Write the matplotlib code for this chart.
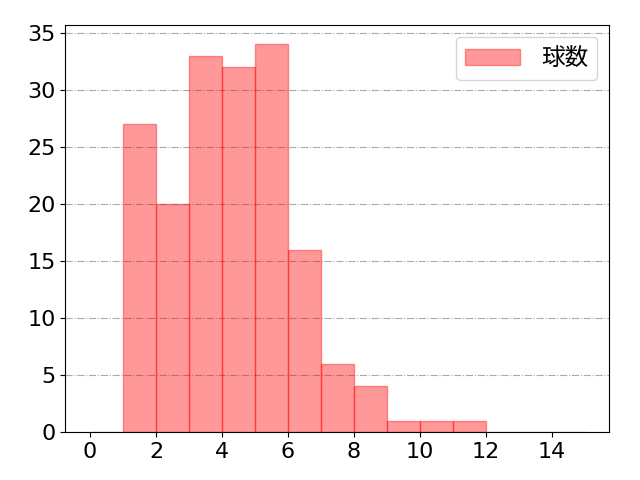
import matplotlib.pyplot as plt
import numpy as np

plt.rcParams['font.family'] = ['DejaVu Sans', 'Noto Sans CJK JP']
plt.rcParams['font.size'] = 16

# pitch-count bins (left edges) and their frequencies
bin_left = [1, 2, 3, 4, 5, 6, 7, 8, 9, 10, 11]
counts = [27, 20, 33, 32, 34, 16, 6, 4, 1, 1, 1]
bin_edges = list(range(0, 16))

fig, ax = plt.subplots(figsize=(6.4, 4.8), dpi=100)
ax.hist(np.array(bin_left) + 0.5, bins=bin_edges, weights=counts,
        color='red', alpha=0.4, edgecolor='red', label='球数')
ax.grid(axis='y', color='#aaaaaa', linestyle='-.', linewidth=0.8)
ax.set_axisbelow(True)
ax.set_xticks(range(0, 16, 2))
ax.legend(loc='upper right', handlelength=2.3, handletextpad=0.9, fontsize=17)
fig.subplots_adjust(left=0.102, right=0.952, top=0.948, bottom=0.1)
fig.savefig('out.png')
